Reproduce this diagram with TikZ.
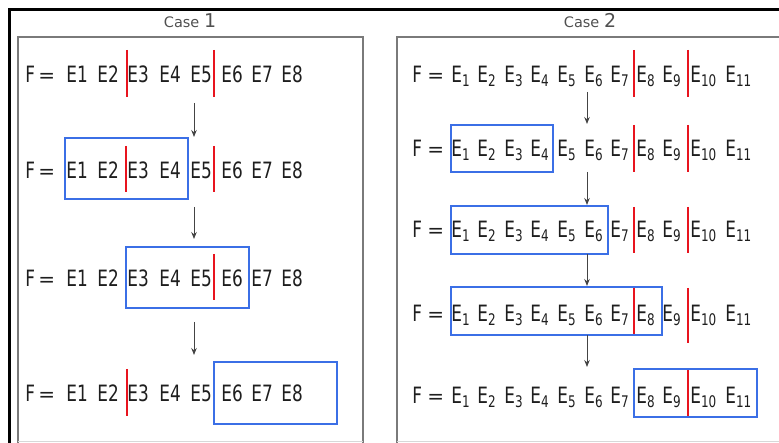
\documentclass[tikz,border=0pt]{standalone}
\usepackage{fontspec}
\newfontfamily\dfont[FakeStretch=0.75]{DejaVu Sans}
\newfontfamily\tfont{DejaVu Sans}
\usetikzlibrary{arrows.meta}
\definecolor{txt}{HTML}{1E1E1E}
\definecolor{barred}{HTML}{E8141E}
\definecolor{boxblue}{HTML}{3B6FE6}
\definecolor{panelgray}{HTML}{7A7A7A}
\definecolor{panellight}{HTML}{D8D8D8}
\definecolor{arrgray}{HTML}{444444}
\definecolor{titlegray}{HTML}{505050}
\newcommand{\Sb}[1]{\raisebox{-4pt}{\fontsize{16}{16}\selectfont #1}}
\newcommand{\Eq}{{\tfont\fontsize{20}{24}\selectfont =}}
\begin{document}
\begin{tikzpicture}[x=1pt,y=-1pt,
  tok/.style={inner sep=0pt, outer sep=0pt, anchor=base west, text=txt, font=\dfont\fontsize{22.5}{26}\selectfont},
  ttl/.style={inner sep=0pt, anchor=base, text=titlegray, font=\tfont\fontsize{14.5}{16}\selectfont},
  redbar/.style={draw=barred, line width=2.5pt},
  bluebox/.style={draw=boxblue, line width=2pt},
  panel/.style={draw=panelgray, line width=1.5pt},
  arr/.style={draw=arrgray, line width=0.9pt, -{Stealth[length=7pt,width=5.5pt]}}]
\useasboundingbox (0,0) rectangle (779,443);
% outer frame
\draw[line width=3pt] (9.5,443) -- (9.5,10) -- (779,10);
% panels
\draw[panel] (18,443) -- (18,37) -- (363,37) -- (363,443);
\draw[panel] (397,443) -- (397,37) -- (779,37);
\draw[panellight, line width=1.5pt] (18,441.5) -- (363,441.5);
\draw[panellight, line width=1.5pt] (397,441.5) -- (779,441.5);
% titles
\node[ttl] (t1) at (190,28) {Case {\fontsize{19}{19}\selectfont 1}};
\node[ttl] (t2) at (590,28) {Case {\fontsize{19}{19}\selectfont 2}};
% left rows
\foreach \r/\y in {1/83,2/179,3/287,4/402}{
  \foreach \t/\x [count=\i] in {F/27,\Eq/40,E1/68,E2/99,E3/129,E4/161,E5/192,E6/223,E7/253,E8/283}{
    \node[tok] (L\r-\i) at (\x-1.6,\y) {\t};
  }
}
% right rows
\foreach \r/\y in {1/83,2/157,3/238,4/322,5/403}{
  \foreach \t/\x [count=\i] in {F/414,\Eq/429,E\Sb{1}/453,E\Sb{2}/479,E\Sb{3}/506,E\Sb{4}/532,E\Sb{5}/559,E\Sb{6}/586,E\Sb{7}/612,E\Sb{8}/638,E\Sb{9}/664,E\Sb{10}/692,E\Sb{11}/727}{
    \node[tok] (R\r-\i) at (\x-1.6,\y) {\t};
  }
}
% left bars
\draw[redbar] (127,50) -- (127,97);
\draw[redbar] (214,50) -- (214,97);
\draw[redbar] (126,146) -- (126,192);
\draw[redbar] (214,146) -- (214,192);
\draw[redbar] (214,254) -- (214,300);
\draw[redbar] (127,369) -- (127,416);
% right bars
\draw[redbar] (634,50) -- (634,97);
\draw[redbar] (688,50) -- (688,97);
\draw[redbar] (634,125) -- (634,172);
\draw[redbar] (688,125) -- (688,172);
\draw[redbar] (634,207) -- (634,253);
\draw[redbar] (688,207) -- (688,253);
\draw[redbar] (634,288) -- (634,335);
\draw[redbar] (688,288) -- (688,343);
\draw[redbar] (688,369) -- (688,417);
% left boxes
\draw[bluebox] (65,138) rectangle (188,199);
\draw[bluebox] (126,247) rectangle (249,308);
\draw[bluebox] (214,362) rectangle (337,424);
% right boxes
\draw[bluebox] (451,125) rectangle (553,172);
\draw[bluebox] (451,206) rectangle (608,254);
\draw[bluebox] (451,287) rectangle (662,335);
\draw[bluebox] (634,369) rectangle (757,417);
% arrows left
\coordinate (la1s) at (194,103); \coordinate (la1e) at (194,137);
\coordinate (la2s) at (194,207); \coordinate (la2e) at (194,239);
\coordinate (la3s) at (194,322); \coordinate (la3e) at (194,355);
\draw[arr] (la1s) -- (la1e);
\draw[arr] (la2s) -- (la2e);
\draw[arr] (la3s) -- (la3e);
% arrows right
\coordinate (ra1s) at (587,92);  \coordinate (ra1e) at (587,124);
\coordinate (ra2s) at (587,172); \coordinate (ra2e) at (587,205);
\coordinate (ra3s) at (587,254); \coordinate (ra3e) at (587,286);
\coordinate (ra4s) at (587,335); \coordinate (ra4e) at (587,367);
\draw[arr] (ra1s) -- (ra1e);
\draw[arr] (ra2s) -- (ra2e);
\draw[arr] (ra3s) -- (ra3e);
\draw[arr] (ra4s) -- (ra4e);
\end{tikzpicture}
\end{document}
